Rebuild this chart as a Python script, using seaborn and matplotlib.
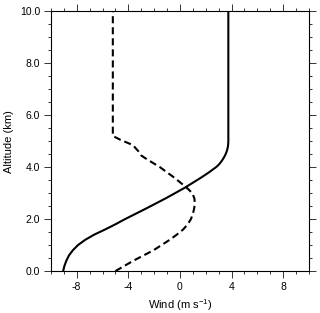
import matplotlib
matplotlib.use("Agg")
import matplotlib.pyplot as plt
import pandas as pd
import seaborn as sns
from matplotlib.ticker import MultipleLocator, FormatStrFormatter

# solid profile (altitude in km, wind in m/s)
alt_solid = [0.0, 0.1, 0.2, 0.4, 0.6, 0.8, 1.0, 1.2, 1.4, 1.6, 1.8, 2.0, 2.4,
             2.8, 3.2, 3.6, 3.8, 4.0, 4.1, 4.2, 4.3, 4.4, 4.5, 4.6, 4.7, 4.8,
             4.9, 5.0, 10.0]
wind_solid = [-9.05, -9.0, -8.95, -8.8, -8.6, -8.3, -7.9, -7.35, -6.65, -5.8,
              -5.0, -4.25, -2.65, -1.1, 0.35, 1.65, 2.25, 2.8, 3.02, 3.18,
              3.32, 3.44, 3.54, 3.62, 3.68, 3.72, 3.74, 3.75, 3.75]

# dashed profile
alt_dash = [0.0, 0.4, 0.8, 1.2, 1.4, 1.6, 1.8, 2.0, 2.2, 2.4, 2.6, 2.8, 3.0,
            3.15, 3.3, 3.6, 4.0, 4.3, 4.45, 4.6, 4.85, 5.05, 5.2, 10.0]
wind_dash = [-5.0, -3.6, -2.05, -0.8, -0.25, 0.25, 0.6, 0.85, 1.0, 1.1, 1.15,
             1.12, 0.95, 0.65, 0.3, -0.45, -1.55, -2.55, -3.0, -3.2, -3.65,
             -4.6, -5.2, -5.2]

x_ticks = [-8, -4, 0, 4, 8]

sns.set_style("ticks")
plt.rcParams["font.family"] = ["Liberation Sans", "DejaVu Sans"]
plt.rcParams["axes.unicode_minus"] = False
plt.rcParams["mathtext.default"] = "regular"
plt.rcParams["text.color"] = "black"
plt.rcParams["axes.labelcolor"] = "black"

fig = plt.figure(figsize=(3.2, 3.13), dpi=100)
ax = fig.add_axes([0.159, 0.134, 0.8066, 0.830])

df_solid = pd.DataFrame({"wind": wind_solid, "alt": alt_solid})
df_dash = pd.DataFrame({"wind": wind_dash, "alt": alt_dash})
sns.lineplot(data=df_solid, x="wind", y="alt", sort=False, estimator=None,
             color="black", lw=1.5, ax=ax)
sns.lineplot(data=df_dash, x="wind", y="alt", sort=False, estimator=None,
             color="black", lw=1.5, ax=ax)
ax.lines[-1].set_dashes((3.4, 1.9))

ax.set_xlim(-10, 10)
ax.set_ylim(0, 10)
ax.set_xticks(x_ticks)
ax.xaxis.set_minor_locator(MultipleLocator(1))
ax.yaxis.set_major_locator(MultipleLocator(2))
ax.yaxis.set_minor_locator(MultipleLocator(0.5))
ax.yaxis.set_major_formatter(FormatStrFormatter("%.1f"))

for s in ax.spines.values():
    s.set_visible(True)
    s.set_linewidth(0.8)
    s.set_color("black")

ax.tick_params(which="both", direction="out", top=True, right=True,
               width=0.7, labelsize=7.5, color="#333333", labelcolor="black")
ax.tick_params(which="major", length=4.8, pad=3)
ax.tick_params(which="minor", length=2.4)

ax.set_xlabel("Wind (m s$^{-1}$)", fontsize=8, labelpad=4)
ax.set_ylabel("Altitude (km)", fontsize=8, labelpad=4)

fig.savefig("out.png", dpi=100)
